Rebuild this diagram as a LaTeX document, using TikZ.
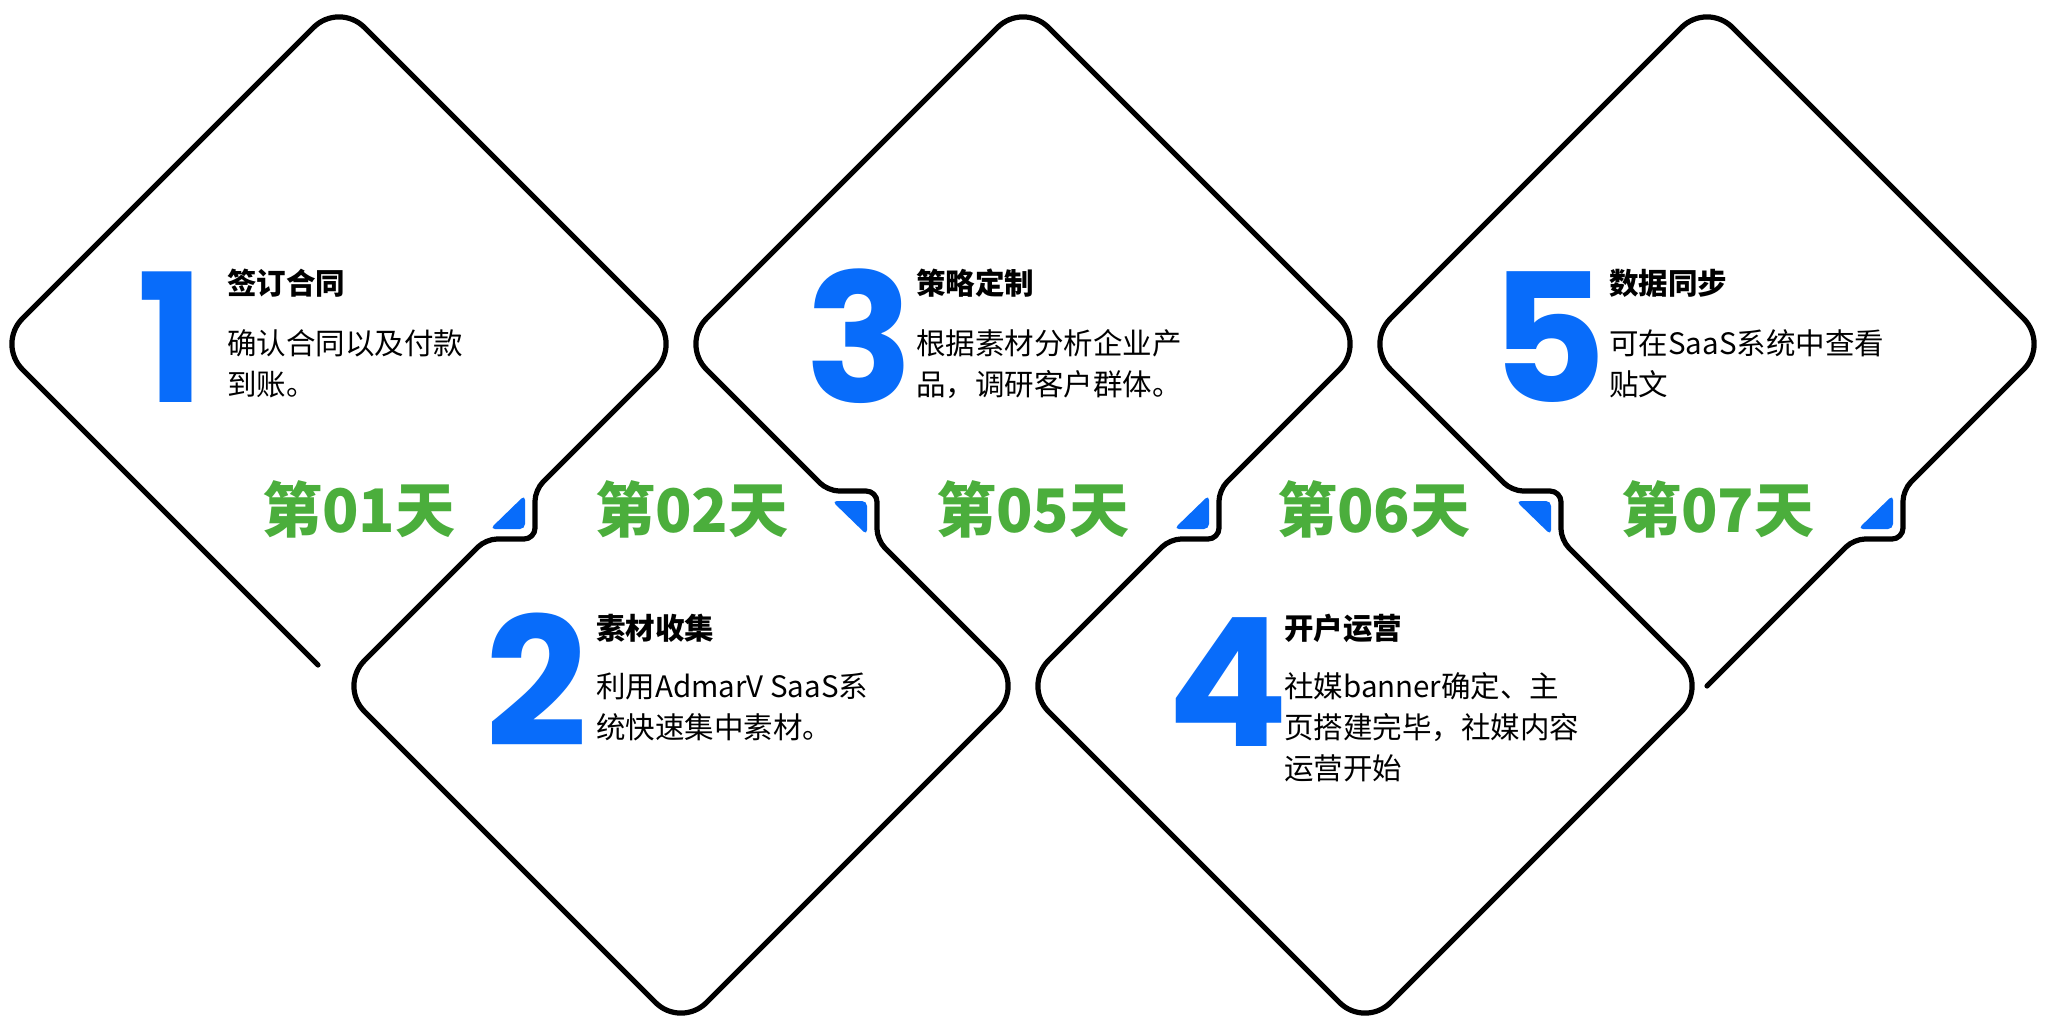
\documentclass[tikz,border=0pt]{standalone}
\usepackage{fontspec}
\newfontfamily\cjk{Noto Sans CJK SC}
\newfontfamily\numfont{Poppins}
\definecolor{numblue}{RGB}{8,108,250}
\definecolor{daygreen}{RGB}{75,174,60}
\begin{document}
\begin{tikzpicture}[x=1pt,y=-1pt,
  outline/.style={line width=5.2pt, line cap=round, line join=round, black},
  pointer/.style={fill=numblue, rounded corners=5pt},
  bignum/.style={inner sep=0pt, anchor=base west, text=numblue, font=\numfont\bfseries\fontsize{179}{179}\selectfont},
  ttl/.style={inner sep=0pt, anchor=base west, font=\cjk\bfseries\fontsize{29.5}{30}\selectfont},
  body/.style={inner sep=0pt, anchor=base west, font=\cjk\fontsize{29.5}{30}\selectfont},
  day/.style={inner sep=0pt, anchor=base west, text=daygreen, font=\cjk\bfseries\fontsize{60}{60}\selectfont}]
\useasboundingbox (0,0) rectangle (2049,1028);
\fill[white] (0,0) rectangle (2049,1028);

% continuous outline of the five interlocking diamonds
\draw[outline, rounded corners=36pt]
  (318,665) -- (-3,344) -- (339,2) -- (681,344) -- (570,455)
  [rounded corners=11pt] -- (535,490) -- (535,539) -- (486,539) -- (450,575)
  [rounded corners=36pt] -- (339,686) -- (681,1028) -- (1023,686) -- (912,575)
  [rounded corners=11pt] -- (877,540) -- (877,491) -- (828,491) -- (792,455)
  [rounded corners=36pt] -- (681,344) -- (1023,2) -- (1365,344) -- (1254,455)
  [rounded corners=11pt] -- (1219,490) -- (1219,539) -- (1170,539) -- (1134,575)
  [rounded corners=36pt] -- (1023,686) -- (1365,1028) -- (1707,686) -- (1596,575)
  [rounded corners=11pt] -- (1561,540) -- (1561,491) -- (1512,491) -- (1476,455)
  [rounded corners=36pt] -- (1365,344) -- (1707,2) -- (2049,344) -- (1938,455)
  [rounded corners=11pt] -- (1903,490) -- (1903,539) -- (1854,539) -- (1818,575)
  [rounded corners=36pt] -- (1707,686);

% blue pointers
\fill[pointer] (525,529) -- (525,495) -- (490,529) -- cycle;
\fill[pointer] (867,501) -- (867,535) -- (832,501) -- cycle;
\fill[pointer] (1209,529) -- (1209,495) -- (1174,529) -- cycle;
\fill[pointer] (1551,501) -- (1551,535) -- (1516,501) -- cycle;
\fill[pointer] (1893,529) -- (1893,495) -- (1858,529) -- cycle;

% big numbers
\node[bignum] (n1) at (137,402) {1};
\node[bignum] (n2) at (485,746) {2};
\node[bignum] (n3) at (805,402) {3};
\node[bignum] (n4) at (1167,746) {4};
\node[bignum] (n5) at (1490,402) {5};

% step 1
\node[ttl]  (t1)  at (227,294) {签订合同};
\node[body] (b1a) at (227,354) {确认合同以及付款};
\node[body] (b1b) at (227,395) {到账。};
% step 2
\node[ttl]  (t2)  at (596,639) {素材收集};
\node[body] (b2a) at (596,697) {利用AdmarV SaaS系};
\node[body] (b2b) at (596,738) {统快速集中素材。};
% step 3
\node[ttl]  (t3)  at (916,294) {策略定制};
\node[body] (b3a) at (916,354) {根据素材分析企业产};
\node[body] (b3b) at (916,395) {品，调研客户群体。};
% step 4
\node[ttl]  (t4)  at (1284,639) {开户运营};
\node[body] (b4a) at (1284,697) {社媒banner确定、主};
\node[body] (b4b) at (1284,738) {页搭建完毕，社媒内容};
\node[body] (b4c) at (1284,779) {运营开始};
% step 5
\node[ttl]  (t5)  at (1609,294) {数据同步};
\node[body] (b5a) at (1609,354) {可在SaaS系统中查看};
\node[body] (b5b) at (1609,395) {贴文};

% day labels
\node[day] (d1) at (262,532) {第01天};
\node[day] (d2) at (595,532) {第02天};
\node[day] (d3) at (936,532) {第05天};
\node[day] (d4) at (1277,532) {第06天};
\node[day] (d5) at (1621,532) {第07天};
\end{tikzpicture}
\end{document}
